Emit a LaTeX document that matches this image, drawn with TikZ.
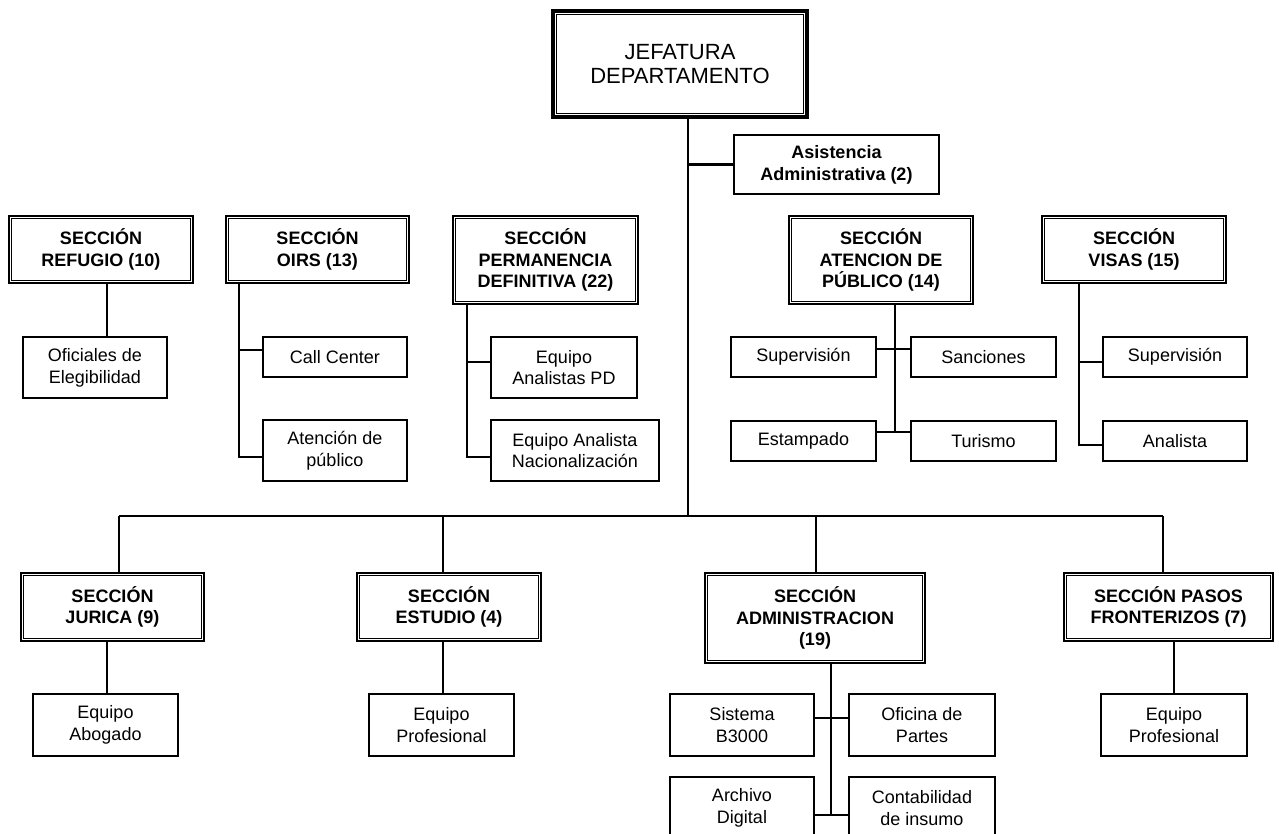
\documentclass[tikz,border=0pt]{standalone}
\usepackage{fontspec}
\setmainfont{Liberation Sans}
\begin{document}
\begin{tikzpicture}[x=0.75pt,y=-0.75pt,
  every node/.style={align=center,inner sep=0pt,font=\fontsize{13.5}{16.3}\selectfont},
  box/.style 2 args={draw,line width=1.6pt,minimum width=#1*0.75pt,minimum height=#2*0.75pt},
  sec/.style 2 args={draw,line width=1.9pt,minimum width=#1*0.75pt,minimum height=#2*0.75pt,font=\fontsize{13.5}{16.3}\selectfont\bfseries},
  conn/.style={line width=1.6pt},
  inner/.style={line width=0.8pt}]
\useasboundingbox (0,0) rectangle (1279,834);
\clip (0,0) rectangle (1279,834);
\fill[white] (0,0) rectangle (1279,834);

% head
\node[draw,line width=2.6pt,minimum width=254*0.75pt,minimum height=106*0.75pt,font=\fontsize{16.5}{17.5}\selectfont] (jef) at (680,64) {JEFATURA\\DEPARTAMENTO};
\node[box={205}{59},font=\fontsize{13.5}{16.3}\selectfont\bfseries] (asis) at (836.5,164.5) {Asistencia\\Administrativa (2)};

% upper sections
\node[sec={184}{67}] (ref) at (101,249.5) {SECCIÓN\\REFUGIO (10)};
\node[sec={183}{67}] (oirs) at (317.5,249.5) {SECCIÓN\\OIRS (13)};
\node[sec={185}{88}] (perm) at (545.5,260) {SECCIÓN\\PERMANENCIA\\DEFINITIVA (22)};
\node[sec={184}{88}] (aten) at (881,260) {SECCIÓN\\ATENCION DE\\PÚBLICO (14)};
\node[sec={184}{67}] (visas) at (1134,249.5) {SECCIÓN\\VISAS (15)};

\node[box={144}{61}] (ofi) at (95,367.5) {Oficiales de\\Elegibilidad};
\node[box={144}{40}] (call) at (335,357) {Call Center};
\node[box={144}{61}] (atpub) at (335,450.5) {Atención de\\público};
\node[box={146}{61}] (eqpd) at (564,367.5) {Equipo\\Analistas PD};
\node[box={168}{61}] (eqnac) at (575,450.5) {Equipo Analista\\Nacionalización};
\node[box={145}{40}] (sup1) at (803.5,357) {Supervisión};
\node[box={145}{40}] (sanc) at (983.5,357) {Sanciones};
\node[box={145}{40}] (estamp) at (803.5,441) {Estampado};
\node[box={145}{40}] (tur) at (983.5,441) {Turismo};
\node[box={144}{40}] (sup2) at (1175,357) {Supervisión};
\node[box={144}{40}] (anal) at (1175,441) {Analista};

% lower sections
\node[sec={183}{68}] (jur) at (112.5,607) {SECCIÓN\\JURICA (9)};
\node[sec={184}{68}] (est) at (449,607) {SECCIÓN\\ESTUDIO (4)};
\node[sec={220}{90}] (adm) at (815,618) {SECCIÓN\\ADMINISTRACION\\(19)};
\node[sec={209}{68}] (pasos) at (1168.5,607) {SECCIÓN PASOS\\FRONTERIZOS (7)};

\node[box={145}{62}] (abog) at (105.5,725) {Equipo\\Abogado};
\node[box={145}{62}] (prof1) at (441.5,725) {Equipo\\Profesional};
\node[box={144}{62}] (sis) at (742,725) {Sistema\\B3000};
\node[box={146}{62}] (ofp) at (922,725) {Oficina de\\Partes};
\node[box={144}{62}] (arch) at (742,808) {Archivo\\Digital};
\node[box={146}{62}] (cont) at (922,808) {Contabilidad\\de insumo};
\node[box={146}{62}] (prof2) at (1174,725) {Equipo\\Profesional};

% inner lines of double borders
\foreach \n in {ref,oirs,perm,aten,visas,jur,est,adm,pasos}
  \draw[inner] ([shift={(2.7pt,2.7pt)}]\n.south west) rectangle ([shift={(-2.7pt,-2.7pt)}]\n.north east);
\draw[line width=1.2pt] ([shift={(4pt,4pt)}]jef.south west) rectangle ([shift={(-4pt,-4pt)}]jef.north east);

% trunk and bus
\coordinate (bus) at (688,516);
\coordinate (bj) at (119,516);
\coordinate (be) at (443,516);
\coordinate (ba) at (816,516);
\coordinate (bp) at (1163,516);
\draw[conn] (jef.south -| bus) -- (bus);
\draw[conn] (asis.west) -- (asis.west -| bus);
\draw[conn] (bj) -- (bp);
\draw[conn] (bj) -- (bj |- jur.north);
\draw[conn] (be) -- (be |- est.north);
\draw[conn] (ba) -- (ba |- adm.north);
\draw[conn] (bp) -- (bp |- pasos.north);

% refugio
\coordinate (xr) at (107,0);
\draw[conn] (ref.south -| xr) -- (ofi.north -| xr);
% oirs
\coordinate (xo) at (239,0);
\draw[conn] (oirs.south -| xo) -- (xo |- 0,457) -- (atpub.west |- 0,457);
\draw[conn] (xo |- 0,350) -- (call.west |- 0,350);
% permanencia
\coordinate (xp) at (467,0);
\draw[conn] (perm.south -| xp) -- (xp |- 0,457) -- (eqnac.west |- 0,457);
\draw[conn] (xp |- 0,362) -- (eqpd.west |- 0,362);
% atencion
\coordinate (xa) at (895,0);
\draw[conn] (aten.south -| xa) -- (xa |- 0,433);
\draw[conn] (sup1.east |- 0,349) -- (sanc.west |- 0,349);
\draw[conn] (estamp.east |- 0,432) -- (tur.west |- 0,432);
% visas
\coordinate (xv) at (1079,0);
\draw[conn] (visas.south -| xv) -- (xv |- 0,445) -- (anal.west |- 0,445);
\draw[conn] (xv |- 0,362) -- (sup2.west |- 0,362);
% lower
\coordinate (xj) at (107,0);
\draw[conn] (jur.south -| xj) -- (abog.north -| xj);
\draw[conn] (est.south -| be) -- (prof1.north -| be);
\coordinate (xf) at (1174,0);
\draw[conn] (pasos.south -| xf) -- (prof2.north -| xf);
\coordinate (xd) at (831,0);
\draw[conn] (adm.south -| xd) -- (xd |- 0,815);
\draw[conn] (sis.east |- 0,718) -- (ofp.west |- 0,718);
\draw[conn] (arch.east |- 0,815) -- (cont.west |- 0,815);
\end{tikzpicture}
\end{document}
